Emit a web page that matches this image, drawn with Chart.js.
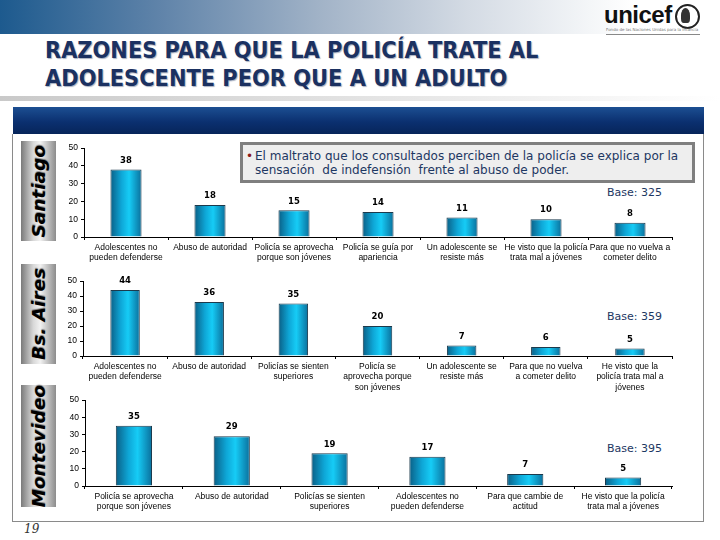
<!DOCTYPE html>
<html>
<head>
<meta charset="utf-8">
<script src="https://cdn.jsdelivr.net/npm/chart.js@4.4.1/dist/chart.umd.min.js"></script>
<style>
  body { margin:0; width:720px; height:540px; overflow:hidden; background:#fff; position:relative; font-family:"DejaVu Sans", sans-serif; }
  .abs { position:absolute; }
  #banner { left:0; top:0; width:720px; height:34px;
    background:linear-gradient(to right,#1d5a8e 0%,#5f83a9 22%,#a3b4c8 45%,#d4dbe4 65%,#f4f6f8 82%,#fff 88%); }
  #title { left:45px; top:36px; font-family:"DejaVu Sans Condensed","DejaVu Sans",sans-serif; font-stretch:condensed;
    font-weight:bold; font-size:23.3px; line-height:28px; color:#1b3161; text-shadow:1px 1px 1px #a8b0c0; white-space:nowrap; }
  #rule { left:0; top:96px; width:720px; height:5px; background:linear-gradient(to right,#c9c9c9,#e8e8e8 60%,#fff); }
  #navy { left:13px; top:107px; width:691px; height:27px; background:linear-gradient(to bottom,#1c4f92,#0b3070 55%,#06255a); }
  #panel { left:12px; top:134px; width:690px; height:387px; border:1.5px solid #8a8a8a; border-top:none; }
  .side { left:21px; width:35px; background:linear-gradient(to right,#7a7a7a,#d8d8d8 35%,#f2f2f2 55%,#8c8c8c);
    display:flex; align-items:center; justify-content:center; }
  .side span { writing-mode:vertical-rl; transform:rotate(180deg); font-weight:bold; font-style:italic;
    font-size:18.5px; color:#000; text-shadow:1px 0 1px #777; white-space:nowrap; }
  #note { left:240px; top:142px; width:449px; height:35px; border:3px solid #7f7f7f; background:#eeeeee;
    font-family:"DejaVu Sans",sans-serif; font-size:12px; color:#1d3762; }
  .base { left:596px; width:66px; text-align:right; font-family:"DejaVu Sans",sans-serif; font-size:11px; color:#1d3762; }
  canvas { position:absolute; }
</style>
</head>
<body>
<div id="banner" class="abs"></div>
<div class="abs" style="left:604px;top:1px;font-family:'Liberation Sans',sans-serif;font-weight:bold;font-size:24px;color:#111;letter-spacing:-0.5px;">unicef</div>
<div class="abs" style="left:675px;top:4px;width:21px;height:21px;border-radius:50%;border:2px solid #222;background:#fff;"></div>
<div class="abs" style="left:681px;top:8px;width:9px;height:15px;border-radius:50% 50% 30% 30%;background:#333;"></div>
<div class="abs" style="left:606px;top:27px;font-size:4px;color:#777;white-space:nowrap;">Fondo de las Naciones Unidas para la Infancia</div>
<div class="abs" style="left:606px;top:34px;width:94px;height:1px;background:#888;"></div>

<div id="title" class="abs">RAZONES PARA QUE LA POLICÍA TRATE AL<br>ADOLESCENTE PEOR QUE A UN ADULTO</div>
<div id="rule" class="abs"></div>
<div id="navy" class="abs"></div>
<div id="panel" class="abs"></div>

<div class="abs side" style="top:141px;height:100px;"><span>Santiago</span></div>
<div class="abs side" style="top:264px;height:100px;"><span>Bs. Aires</span></div>
<div class="abs side" style="top:385px;height:122px;"><span>Montevideo</span></div>

<div id="note" class="abs">
  <div class="abs" style="left:3px;top:4px;color:#8b1a1a;">•</div>
  <div class="abs" style="left:12px;top:4px;white-space:nowrap;line-height:14px;">El maltrato que los consultados perciben de la policía se explica por la<br>sensación&nbsp; de indefensión&nbsp; frente al abuso de poder.</div>
</div>

<div class="abs base" style="top:186px;">Base: 325</div>
<div class="abs base" style="top:310px;">Base: 359</div>
<div class="abs base" style="top:442px;">Base: 395</div>

<div class="abs" style="left:24px;top:522px;font-family:'DejaVu Serif',serif;font-style:italic;font-size:12px;color:#333;">19</div>

<canvas id="cSantiago" style="left:55px;top:140px;" width="635" height="128"></canvas>
<canvas id="cBsAires" style="left:55px;top:273px;" width="635" height="128"></canvas>
<canvas id="cMontevideo" style="left:55px;top:392px;" width="635" height="128"></canvas>

<script>
// Santiago
const santiagoLabels = [
  ["Adolescentes no", "pueden defenderse"],
  "Abuso de autoridad",
  ["Policía se aprovecha", "porque son jóvenes"],
  ["Policía se guía por", "apariencia"],
  ["Un adolescente se", "resiste más"],
  ["He visto que la policía", "trata mal a jóvenes"],
  ["Para que no vuelva a", "cometer delito"]
];
const santiagoValues = [38, 18, 15, 14, 11, 10, 8];

// Bs. Aires
const bsAiresLabels = [
  ["Adolescentes no", "pueden defenderse"],
  "Abuso de autoridad",
  ["Policías se sienten", "superiores"],
  ["Policía se", "aprovecha porque", "son jóvenes"],
  ["Un adolescente se", "resiste más"],
  ["Para que no vuelva", "a cometer delito"],
  ["He visto que la", "policía trata mal a", "jóvenes"]
];
const bsAiresValues = [44, 36, 35, 20, 7, 6, 5];

// Montevideo
const montevideoLabels = [
  ["Policía se aprovecha", "porque son jóvenes"],
  "Abuso de autoridad",
  ["Policías se sienten", "superiores"],
  ["Adolescentes no", "pueden defenderse"],
  ["Para que cambie de", "actitud"],
  ["He visto que la policía", "trata mal a jóvenes"]
];
const montevideoValues = [35, 29, 19, 17, 7, 5];

const yTicks = [0, 10, 20, 30, 40, 50];

const valueLabels = {
  id: 'valueLabels',
  afterDatasetsDraw(chart) {
    const ctx = chart.ctx;
    const ds = chart.data.datasets[0];
    ctx.save();
    ctx.font = 'bold 8.5px "DejaVu Sans"';
    ctx.fillStyle = '#000';
    ctx.textAlign = 'center';
    ctx.textBaseline = 'middle';
    chart.getDatasetMeta(0).data.forEach(function(bar, i) {
      ctx.fillText(ds.data[i], bar.x, bar.y - 9);
    });
    ctx.restore();
  }
};

function makeChart(id, labels, values, yWidth, xHeight, barPct) {
  const ctx = document.getElementById(id);
  return new Chart(ctx, {
    type: 'bar',
    data: {
      labels: labels,
      datasets: [{
        data: values,
        borderColor: '#1c3a4c',
        borderWidth: 1,
        categoryPercentage: 1,
        barPercentage: barPct,
        backgroundColor: function(c) {
          const chart = c.chart;
          const xs = chart.scales.x;
          if (!xs || !chart.chartArea) return '#12c0ef';
          const cx = xs.getPixelForValue(c.dataIndex);
          const w = xs.width / labels.length * barPct;
          const g = chart.ctx.createLinearGradient(cx - w / 2, 0, cx + w / 2, 0);
          g.addColorStop(0, '#0a5f86');
          g.addColorStop(0.35, '#0ea6d6');
          g.addColorStop(0.6, '#16ccf6');
          g.addColorStop(1, '#0a6f9c');
          return g;
        }
      }]
    },
    options: {
      responsive: false,
      animation: false,
      layout: { padding: { top: 7, right: 18, left: 0, bottom: 0 } },
      plugins: { legend: { display: false }, tooltip: { enabled: false } },
      scales: {
        x: {
          afterFit: function(s) { s.height = xHeight; },
          border: { color: '#000', width: 1 },
          grid: { drawOnChartArea: false, tickLength: 3, color: '#000' },
          ticks: { color: '#000', maxRotation: 0, autoSkip: false, padding: 2,
            font: { family: 'Liberation Sans', size: 8.5, lineHeight: 1.25 } }
        },
        y: {
          min: 0, max: 50,
          afterFit: function(s) { s.width = yWidth; },
          afterBuildTicks: function(s) { s.ticks = yTicks.map(function(v) { return { value: v }; }); },
          border: { color: '#000', width: 1 },
          grid: { drawOnChartArea: false, tickLength: 3, color: '#000' },
          ticks: { color: '#000', padding: 3, font: { family: 'Liberation Sans', size: 8.5 } }
        }
      }
    },
    plugins: [valueLabels]
  });
}

makeChart('cSantiago', santiagoLabels, santiagoValues, 29, 31, 0.37);
makeChart('cBsAires', bsAiresLabels, bsAiresValues, 28, 45, 0.35);
makeChart('cMontevideo', montevideoLabels, montevideoValues, 30, 34, 0.37);
</script>
</body>
</html>
